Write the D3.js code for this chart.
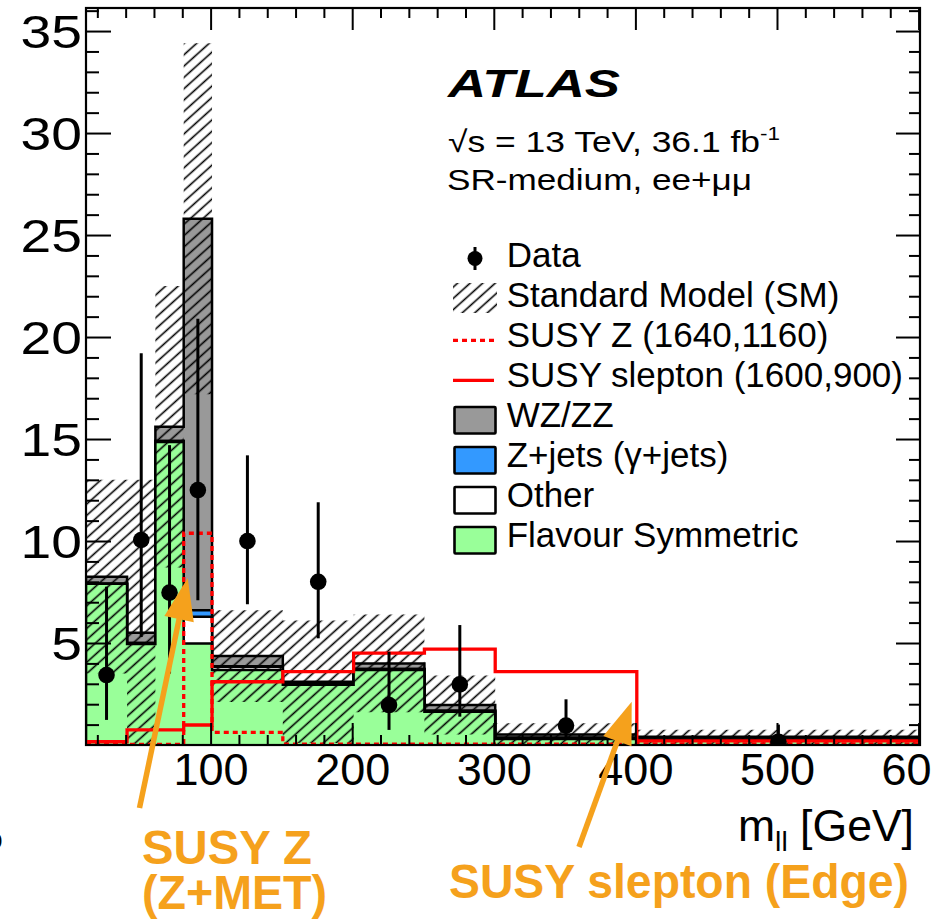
<!DOCTYPE html>
<html>
<head>
<meta charset="utf-8">
<script src="https://cdn.jsdelivr.net/npm/d3@7"></script>
<style>
  html, body { margin: 0; padding: 0; background: #fff; overflow: hidden; }
  text { font-family: "Liberation Sans", Arial, Helvetica, sans-serif; }
</style>
</head>
<body>
<svg id="chart" width="931" height="922"></svg>
<script>
// ---- m_ll histogram, SR-medium ee+mumu (events per bin as plotted) ----
const binEdges    = [12, 41, 61, 81, 101, 151, 201, 251, 301, 401, 601];
const flavourSym  = [7.90, 4.95, 14.85, 4.98, 3.68, 2.95, 3.68, 1.63, 0.30, 0.22];
const otherBkg    = [0.00, 0.05, 0.05, 1.31, 0.16, 0.05, 0.05, 0.05, 0.05, 0.05];
const zJets       = [0.00, 0.00, 0.00, 0.31, 0.02, 0.00, 0.00, 0.00, 0.00, 0.00];
const wzzz        = [0.35, 0.50, 0.70, 19.20, 0.50, 0.10, 0.27, 0.28, 0.17, 0.13];
const smUncert    = [4.75, 7.50, 6.90, 8.60, 2.25, 3.00, 2.40, 1.45, 0.55, 0.35];
const susyZ       = [0.08, 0.03, 0.03, 10.38, 0.62, 0.04, 0.04, 0.04, 0.04, 0.06];
const susySlepton = [0.16, 0.74, 0.74, 0.98, 3.10, 3.60, 4.50, 4.70, 3.60, 0.20];

const dataX  = [26.5, 51, 71, 91, 126, 176, 226, 276, 351, 501];
const dataY  = [3.43, 10.05, 7.47, 12.5, 10.0, 8.0, 1.96, 2.97, 0.95, 0.16];
const dataLo = [1.23, 5.30, 3.50, 7.10, 6.90, 5.23, 0.74, 1.39, 0.30, 0.00];
const dataHi = [7.76, 19.2, 14.7, 20.9, 14.2, 11.9, 4.57, 5.88, 2.24, 1.00];

const xTickValues = [100, 200, 300, 400, 500, 600];
const yTickValues = [5, 10, 15, 20, 25, 30, 35];

const legendLabels = ["Data", "Standard Model (SM)", "SUSY Z (1640,1160)",
  "SUSY slepton (1600,900)", "WZ/ZZ", "Z+jets (\u03b3+jets)", "Other", "Flavour Symmetric"];

// ---- layout ----
const svg = d3.select("#chart");
const P = { left: 86, right: 920, top: 8, bottom: 745 };
const x = d3.scaleLinear().domain([12, 601]).range([P.left, P.right]);
const y = d3.scaleLinear().domain([0, 36.13]).range([P.bottom, P.top]);

const COL = { wz: "#999999", z: "#3399ff", other: "#ffffff", fs: "#99ff99",
              red: "#ff0000", orange: "#f5a11c" };

const defs = svg.append("defs");
defs.append("clipPath").attr("id", "plotClip")
  .append("rect").attr("x", P.left).attr("y", P.top)
  .attr("width", P.right - P.left).attr("height", P.bottom - P.top);

// diagonal hatch for the SM uncertainty
const hatch = defs.append("pattern").attr("id", "hatch")
  .attr("patternUnits", "userSpaceOnUse").attr("width", 12).attr("height", 8.4)
  .attr("patternTransform", "rotate(-42)");
hatch.append("line").attr("x1", -1).attr("x2", 13).attr("y1", 4.2).attr("y2", 4.2)
  .attr("stroke", "#000").attr("stroke-width", 1.6);

// cumulative stack
const cumFS = flavourSym.slice();
const cumOther = cumFS.map((v, i) => v + otherBkg[i]);
const cumZ = cumOther.map((v, i) => v + zJets[i]);
const cumTotal = cumZ.map((v, i) => v + wzzz[i]);

// histogram outline points (closed to zero at both ends)
function histOutline(vals) {
  const pts = [[binEdges[0], 0]];
  vals.forEach((v, i) => { pts.push([binEdges[i], v]); pts.push([binEdges[i + 1], v]); });
  pts.push([binEdges[binEdges.length - 1], 0]);
  return pts;
}
function histStep(vals) {
  const pts = [];
  vals.forEach((v, i) => { pts.push([binEdges[i], v]); pts.push([binEdges[i + 1], v]); });
  return pts;
}
const line = d3.line().x(d => x(d[0])).y(d => y(d[1]));

const plotG = svg.append("g").attr("clip-path", "url(#plotClip)");

// stacked backgrounds, drawn from the top of the stack downwards
[[cumTotal, COL.wz], [cumZ, COL.z], [cumOther, COL.other], [cumFS, COL.fs]].forEach(([vals, fill]) => {
  plotG.append("path").attr("d", line(histOutline(vals)))
    .attr("fill", fill).attr("stroke", "#000").attr("stroke-width", 2.5)
    .attr("stroke-linejoin", "miter");
});

// SM uncertainty band
const band = binEdges.slice(0, -1).map((e, i) => ({
  e, lo: Math.max(0, cumTotal[i] - smUncert[i]), hi: cumTotal[i] + smUncert[i] }));
band.push({ e: binEdges[binEdges.length - 1], lo: band[band.length - 1].lo, hi: band[band.length - 1].hi });
plotG.append("path")
  .attr("d", d3.area().curve(d3.curveStepAfter).x(d => x(d.e)).y0(d => y(d.lo)).y1(d => y(d.hi))(band))
  .attr("fill", "url(#hatch)").attr("stroke", "none");

// signal benchmarks
plotG.append("path").attr("d", line(histStep(susySlepton)))
  .attr("fill", "none").attr("stroke", COL.red).attr("stroke-width", 3.3);
plotG.append("path").attr("d", line(histStep(susyZ)))
  .attr("fill", "none").attr("stroke", COL.red).attr("stroke-width", 3.3)
  .attr("stroke-dasharray", "5,4");

// data
const dataG = plotG.append("g");
dataX.forEach((xv, i) => {
  dataG.append("line").attr("x1", x(xv)).attr("x2", x(xv))
    .attr("y1", y(dataLo[i])).attr("y2", y(dataHi[i]))
    .attr("stroke", "#000").attr("stroke-width", 3);
  dataG.append("circle").attr("cx", x(xv)).attr("cy", y(dataY[i])).attr("r", 8.3).attr("fill", "#000");
});

// ---- axes ----
const minorX = d3.range(20, 601, 20).filter(v => v % 100 !== 0);
const minorY = d3.range(1, 37).filter(v => v % 5 !== 0);
function styleTicks(g) {
  g.select(".domain").remove();
  g.selectAll("line").attr("stroke", "#000").attr("stroke-width", 2);
}
svg.append("g").attr("transform", `translate(0,${P.bottom})`)
  .call(d3.axisBottom(x).tickValues(minorX).tickSize(-10).tickFormat("")).call(styleTicks);
const gx = svg.append("g").attr("transform", `translate(0,${P.bottom})`)
  .call(d3.axisBottom(x).tickValues(xTickValues).tickSize(-22).tickFormat(d3.format("d"))).call(styleTicks);
gx.selectAll("text").attr("y", 40).attr("dy", null)
  .attr("font-size", 45).attr("fill", "#000")
  .style("font-family", '"Liberation Sans", Arial, sans-serif');

svg.append("g").attr("transform", `translate(0,${P.top})`)
  .call(d3.axisTop(x).tickValues(minorX).tickSize(-10).tickFormat("")).call(styleTicks);
svg.append("g").attr("transform", `translate(0,${P.top})`)
  .call(d3.axisTop(x).tickValues(xTickValues).tickSize(-22).tickFormat("")).call(styleTicks);

svg.append("g").attr("transform", `translate(${P.left},0)`)
  .call(d3.axisLeft(y).tickValues(minorY).tickSize(-13).tickFormat("")).call(styleTicks);
const gy = svg.append("g").attr("transform", `translate(${P.left},0)`)
  .call(d3.axisLeft(y).tickValues(yTickValues).tickSize(-25).tickFormat(d3.format("d"))).call(styleTicks);
gy.selectAll("text").attr("x", -4).attr("dy", null).attr("y", 16.5)
  .attr("font-size", 46).attr("fill", "#000")
  .style("font-family", '"Liberation Sans", Arial, sans-serif')
  .each(function () {
    const L = this.getComputedTextLength();
    d3.select(this).attr("textLength", L * 1.2).attr("lengthAdjust", "spacingAndGlyphs");
  });

svg.append("g").attr("transform", `translate(${P.right},0)`)
  .call(d3.axisRight(y).tickValues(minorY).tickSize(-11).tickFormat("")).call(styleTicks);
svg.append("g").attr("transform", `translate(${P.right},0)`)
  .call(d3.axisRight(y).tickValues(yTickValues).tickSize(-24).tickFormat("")).call(styleTicks);

svg.append("rect").attr("x", P.left).attr("y", P.top)
  .attr("width", P.right - P.left).attr("height", P.bottom - P.top)
  .attr("fill", "none").attr("stroke", "#000").attr("stroke-width", 2.2);

// axis title
const xt = svg.append("text").attr("x", 914).attr("y", 841).attr("text-anchor", "end")
  .attr("font-size", 44).attr("fill", "#000")
  .attr("textLength", 176).attr("lengthAdjust", "spacingAndGlyphs");
xt.append("tspan").text("m");
xt.append("tspan").attr("font-size", 28).attr("dy", 10).text("ll");
xt.append("tspan").attr("dy", -10).text(" [GeV]");

// ---- labels ----
svg.append("text").attr("x", 448).attr("y", 97).attr("font-size", 38)
  .attr("font-weight", "bold").attr("font-style", "italic").attr("fill", "#000")
  .attr("textLength", 172).attr("lengthAdjust", "spacingAndGlyphs").text("ATLAS");

const l2 = svg.append("text").attr("x", 448).attr("y", 151.7).attr("font-size", 30).attr("fill", "#000")
  .attr("textLength", 332).attr("lengthAdjust", "spacingAndGlyphs");
l2.append("tspan").text("\u221As = 13 TeV, 36.1 fb");
l2.append("tspan").attr("font-size", 19).attr("dy", -12).text("-1");

svg.append("text").attr("x", 447).attr("y", 190).attr("font-size", 30).attr("fill", "#000")
  .attr("textLength", 305).attr("lengthAdjust", "spacingAndGlyphs").text("SR-medium, ee+\u03bc\u03bc");

// ---- legend ----
const lg = svg.append("g");
const rowY = legendLabels.map((d, i) => 267 + 40 * i);
legendLabels.forEach((lab, i) => {
  lg.append("text").attr("x", 506.7).attr("y", rowY[i]).attr("font-size", 35)
    .attr("fill", "#000").text(lab);
});
// data marker
lg.append("line").attr("x1", 475).attr("x2", 475).attr("y1", rowY[0] - 20).attr("y2", rowY[0] + 3)
  .attr("stroke", "#000").attr("stroke-width", 3);
lg.append("circle").attr("cx", 475).attr("cy", rowY[0] - 8.5).attr("r", 7.5).attr("fill", "#000");
// SM hatch
lg.append("rect").attr("x", 453).attr("y", rowY[1] - 24).attr("width", 44).attr("height", 30)
  .attr("fill", "url(#hatch)");
// signals
lg.append("line").attr("x1", 453).attr("x2", 494).attr("y1", rowY[2] - 6.7).attr("y2", rowY[2] - 6.7)
  .attr("stroke", COL.red).attr("stroke-width", 3.3).attr("stroke-dasharray", "5,4");
lg.append("line").attr("x1", 453).attr("x2", 494).attr("y1", rowY[3] - 6.7).attr("y2", rowY[3] - 6.7)
  .attr("stroke", COL.red).attr("stroke-width", 3.3);
// background boxes
[COL.wz, COL.z, COL.other, COL.fs].forEach((c, k) => {
  lg.append("rect").attr("x", 454.5).attr("y", rowY[4 + k] - 20).attr("width", 41).attr("height", 26.5)
    .attr("fill", c).attr("stroke", "#000").attr("stroke-width", 2.6).attr("rx", 1);
});

// ---- annotations ----
function arrow(x0, y0, x1, y1, headLen, halfW, shaftW) {
  const dx = x1 - x0, dy = y1 - y0, L = Math.hypot(dx, dy);
  const ux = dx / L, uy = dy / L, nx = -uy, ny = ux;
  const bx = x1 - ux * headLen, by = y1 - uy * headLen;
  const g = svg.append("g");
  g.append("line").attr("x1", x0).attr("y1", y0).attr("x2", bx + ux * 4).attr("y2", by + uy * 4)
    .attr("stroke", COL.orange).attr("stroke-width", shaftW);
  g.append("path").attr("d", `M${x1},${y1}L${bx + nx * halfW},${by + ny * halfW}L${bx - nx * halfW},${by - ny * halfW}Z`)
    .attr("fill", COL.orange);
}
arrow(139.5, 808, 187.7, 578, 42, 15, 5.5);
arrow(579, 847, 631.7, 701.7, 42, 15, 5.5);

const ann = svg.append("g").attr("fill", COL.orange).attr("font-weight", "bold");
ann.append("text").attr("x", 142).attr("y", 864).attr("font-size", 48)
  .attr("textLength", 170).attr("lengthAdjust", "spacingAndGlyphs").text("SUSY Z");
ann.append("text").attr("x", 142).attr("y", 909).attr("font-size", 48)
  .attr("textLength", 185).attr("lengthAdjust", "spacingAndGlyphs").text("(Z+MET)");
ann.append("text").attr("x", 449).attr("y", 898).attr("font-size", 48)
  .attr("textLength", 460).attr("lengthAdjust", "spacingAndGlyphs").text("SUSY slepton (Edge)");

svg.append("text").attr("x", -14).attr("y", 849).attr("font-size", 30).attr("fill", "#000").text("o");
</script>
</body>
</html>
